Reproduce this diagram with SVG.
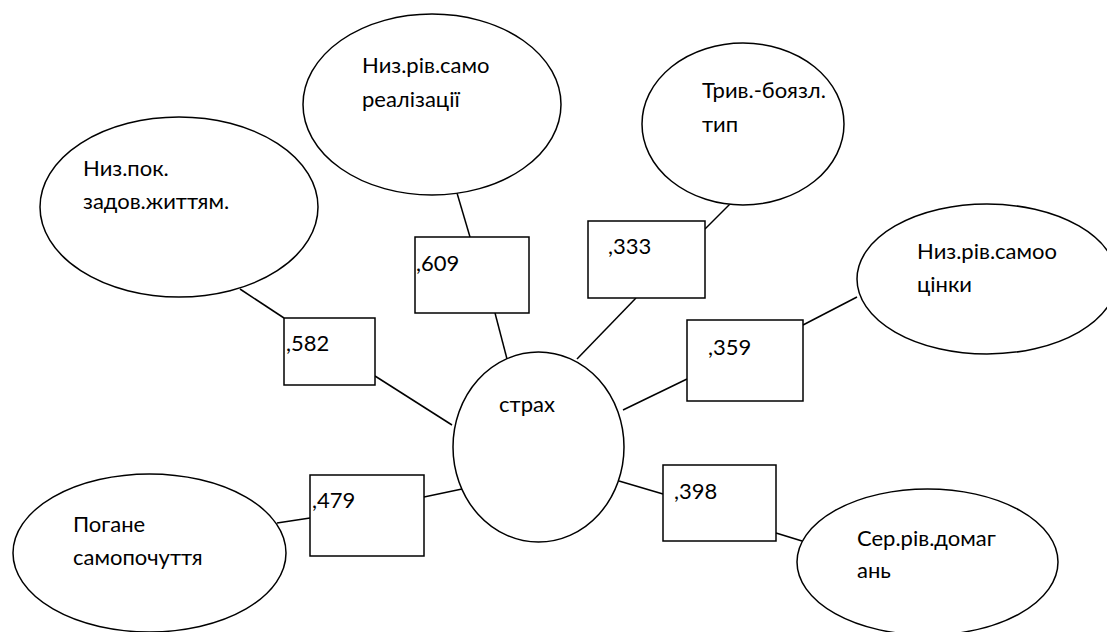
<svg xmlns="http://www.w3.org/2000/svg" width="1107" height="632" viewBox="0 0 1107 632">
<style>
.n{fill:#fff;stroke:#000;stroke-width:1.5}
.c line{stroke:#000;stroke-width:1.5}
text{font-family:Lato,"Liberation Sans",sans-serif;font-size:22px;fill:#000}
</style>
<rect width="1107" height="632" fill="#fff"/>
<g class="c" id="connectors">
<line x1="240" y1="289" x2="284" y2="318"/>
<line x1="375" y1="376" x2="452" y2="425"/>
<line x1="457" y1="193" x2="470" y2="237"/>
<line x1="495" y1="313" x2="507" y2="359"/>
<line x1="705" y1="229" x2="732" y2="202"/>
<line x1="636" y1="298" x2="577" y2="359"/>
<line x1="803" y1="325" x2="857" y2="297"/>
<line x1="687" y1="379" x2="623" y2="410"/>
<line x1="277" y1="523" x2="310" y2="518"/>
<line x1="424" y1="497" x2="462" y2="489"/>
<line x1="619" y1="481" x2="663" y2="494"/>
<line x1="776" y1="533" x2="802" y2="541"/>
</g>
<g id="n-center"><ellipse class="n" cx="538.5" cy="447" rx="85.5" ry="95"/><text x="499" y="412">страх</text></g>
<g id="n-life"><ellipse class="n" cx="179" cy="207" rx="139" ry="90"/><text x="83" y="176">Низ.пок.</text><text x="83" y="209">задов.життям.</text></g>
<g id="n-selfreal"><ellipse class="n" cx="432" cy="104.5" rx="129" ry="90.5"/><text x="362" y="73">Низ.рів.само</text><text x="362" y="107">реалізації</text></g>
<g id="n-anx"><ellipse class="n" cx="743" cy="124" rx="101" ry="81"/><text x="702" y="98">Трив.-боязл.</text><text x="702" y="132">тип</text></g>
<g id="n-selfest"><ellipse class="n" cx="987" cy="279" rx="130" ry="75"/><text x="917" y="259">Низ.рів.самоо</text><text x="917" y="292">цінки</text></g>
<g id="n-asp"><ellipse class="n" cx="927.5" cy="562" rx="130.5" ry="73"/><text x="857" y="546">Сер.рів.домаг</text><text x="857" y="578">ань</text></g>
<g id="n-feel"><ellipse class="n" cx="149.5" cy="553" rx="136.5" ry="79"/><text x="73" y="532">Погане</text><text x="73" y="565">самопочуття</text></g>
<g id="b582"><rect class="n" x="284" y="318" width="91" height="67"/><text x="286" y="351">,582</text></g>
<g id="b609"><rect class="n" x="415" y="237" width="114" height="76"/><text x="416" y="271">,609</text></g>
<g id="b333"><rect class="n" x="588" y="221" width="117" height="77"/><text x="608" y="254">,333</text></g>
<g id="b359"><rect class="n" x="687" y="320" width="116" height="81"/><text x="708" y="355">,359</text></g>
<g id="b479"><rect class="n" x="310" y="475" width="114" height="81"/><text x="312" y="508">,479</text></g>
<g id="b398"><rect class="n" x="663" y="465" width="113" height="76"/><text x="674" y="499">,398</text></g>
</svg>
